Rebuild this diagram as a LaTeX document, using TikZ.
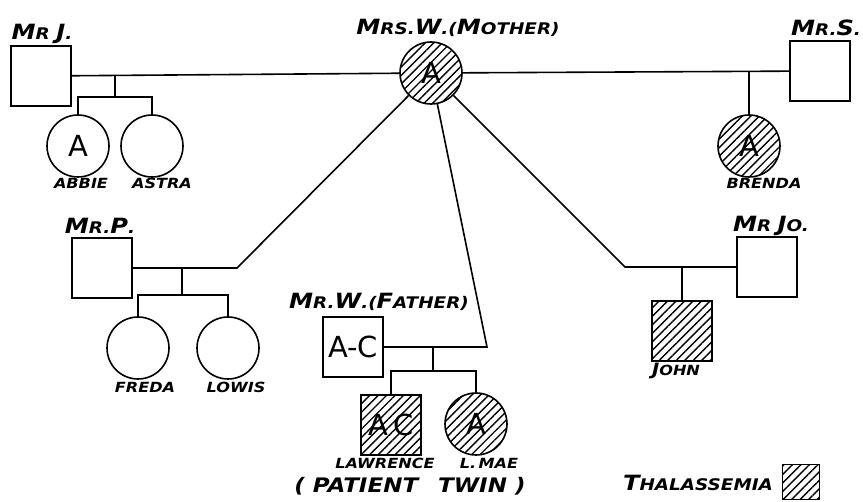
\documentclass[tikz,border=0pt]{standalone}
\usepackage{fontspec}
\setmainfont{DejaVu Sans}
\newfontfamily\hand[FakeStretch=1.15]{DejaVu Sans}
\usetikzlibrary{patterns.meta}
\newcommand{\bigc}[1]{{\fontsize{21}{21}\selectfont #1}}
\tikzset{
	male/.style={draw,line width=1.6pt,rectangle,minimum size=60pt,inner sep=0pt},
	female/.style={draw,line width=1.6pt,circle,minimum size=62pt,inner sep=0pt},
	ill/.style={pattern={Lines[angle=45,distance=6pt,line width=1.4pt]}},
	geno/.style={font=\fontsize{29}{29}\selectfont},
	who/.style={font=\hand\bfseries\itshape\fontsize{16}{16}\selectfont},
	kid/.style={font=\hand\bfseries\itshape\fontsize{14}{14}\selectfont},
	link/.style={line width=1.6pt}
}
\begin{document}
\begin{tikzpicture}[x=1pt,y=-1pt]
	\useasboundingbox (0,0) rectangle (863,502);
	\node[male] (mrj) at (41,76) {};
	\node[female,ill,geno] (mw) at (431,73) {A};
	\node[male] (mrs) at (820,71) {};
	\node[female,geno] (abbie) at (78,146) {A};
	\node[female] (astra) at (152,146) {};
	\node[female,ill,geno] (brenda) at (749,146) {A};
	\node[male] (mrp) at (102,268) {};
	\node[female] (freda) at (138,348) {};
	\node[female] (lowis) at (228,348) {};
	\node[male,geno] (mrw) at (353,347) {A-C};
	\node[male,ill,geno] (lawrence) at (391,425) {A\,C};
	\node[female,ill,geno] (lmae) at (476,424) {A};
	\node[male] (mrjo) at (767,267) {};
	\node[male,ill] (john) at (682,331) {};
	\node[draw,line width=1.4pt,ill,minimum width=37pt,minimum height=35pt,inner sep=0pt] (key) at (801,482) {};
	\node[who] (lmrj) at (42,34) {\bigc{M}R \bigc{J}.};
	\node[who] (lmw) at (458,28) {\bigc{M}RS.\bigc{W}.(\bigc{M}OTHER)};
	\node[who] (lmrs) at (826,28) {\bigc{M}R.\bigc{S}.};
	\node[who] (lmrp) at (100,226) {\bigc{M}R.\bigc{P}.};
	\node[who] (lmrw) at (379,302) {\bigc{M}R.\bigc{W}.(\bigc{F}ATHER)};
	\node[who] (lmrjo) at (771,226) {\bigc{M}R \bigc{J}O.};
	\node[who] (lkey) at (698,483) {\bigc{T}HALASSEMIA};
	\node[kid] (labbie) at (81,183) {ABBIE};
	\node[kid] (lastra) at (162,183) {ASTRA};
	\node[kid] (lbrenda) at (764,183) {BRENDA};
	\node[kid] (lfreda) at (145,387) {FREDA};
	\node[kid] (llowis) at (236,387) {LOWIS};
	\node[kid] (llawrence) at (385,463) {LAWRENCE};
	\node[kid] (llmae) at (489,463) {L.\,MAE};
	\node[kid] (ljohn) at (676,371) {{\fontsize{17}{17}\selectfont J}OHN};
	\node[who,font=\hand\bfseries\itshape\fontsize{20}{20}\selectfont] (ltwin) at (410,486) {( PATIENT\quad TWIN )};
	\coordinate (jb) at (115,75);
	\coordinate (jk) at (115,97);
	\coordinate (sb) at (749,72);
	\coordinate (pc) at (237,268);
	\coordinate (pb) at (182,268);
	\coordinate (pk) at (182,295);
	\coordinate (wc) at (487,347);
	\coordinate (wb) at (433,347);
	\coordinate (wk) at (433,371);
	\coordinate (jc) at (625,267);
	\coordinate (job) at (682,267);
	\draw[link] (mrj) -- (mw) -- (mrs);
	\draw[link] (jb) -- (jk);
	\draw[link] (abbie) |- (jk) -| (astra);
	\draw[link] (sb) -- (brenda);
	\draw[link] (mrp) -- (pc) -- (mw);
	\draw[link] (pb) -- (pk);
	\draw[link] (freda) |- (pk) -| (lowis);
	\draw[link] (mrw) -- (wc) -- (mw);
	\draw[link] (wb) -- (wk);
	\draw[link] (lawrence) |- (wk) -| (lmae);
	\draw[link] (mw) -- (jc) -- (mrjo);
	\draw[link] (job) -- (john);
\end{tikzpicture}
\end{document}
